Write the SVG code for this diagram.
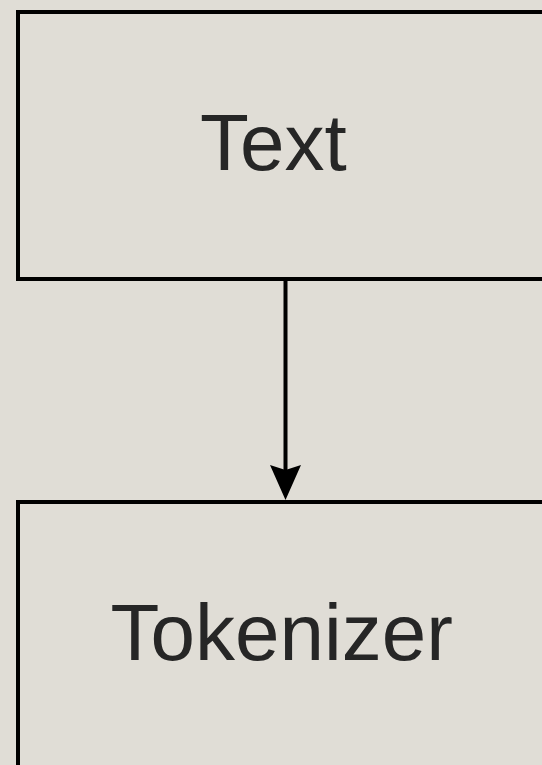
<svg xmlns="http://www.w3.org/2000/svg" width="542" height="765" viewBox="0 0 542 765">
  <style>
    .box { fill: none; stroke: #000; stroke-width: 4; }
    .label { font-family: "Liberation Sans", Arial, sans-serif; font-size: 80px; fill: #262626; }
    .edge { stroke: #000; stroke-width: 4; fill: none; }
    .head { fill: #000; }
  </style>
  <rect x="0" y="0" width="542" height="765" fill="#E0DDD6"/>

  <g id="node-text">
    <rect class="box" x="18" y="12" width="560" height="267"/>
    <text class="label" x="200" y="170">Text</text>
  </g>

  <g id="node-tokenizer">
    <rect class="box" x="18" y="502" width="560" height="300"/>
    <text class="label" x="110.5" y="660">Tokenizer</text>
  </g>

  <g id="connectors">
    <line class="edge" x1="285.5" y1="279" x2="285.5" y2="470"/>
    <polygon class="head" points="270,465 285.5,470 301,465 285.5,500"/>
  </g>
</svg>
